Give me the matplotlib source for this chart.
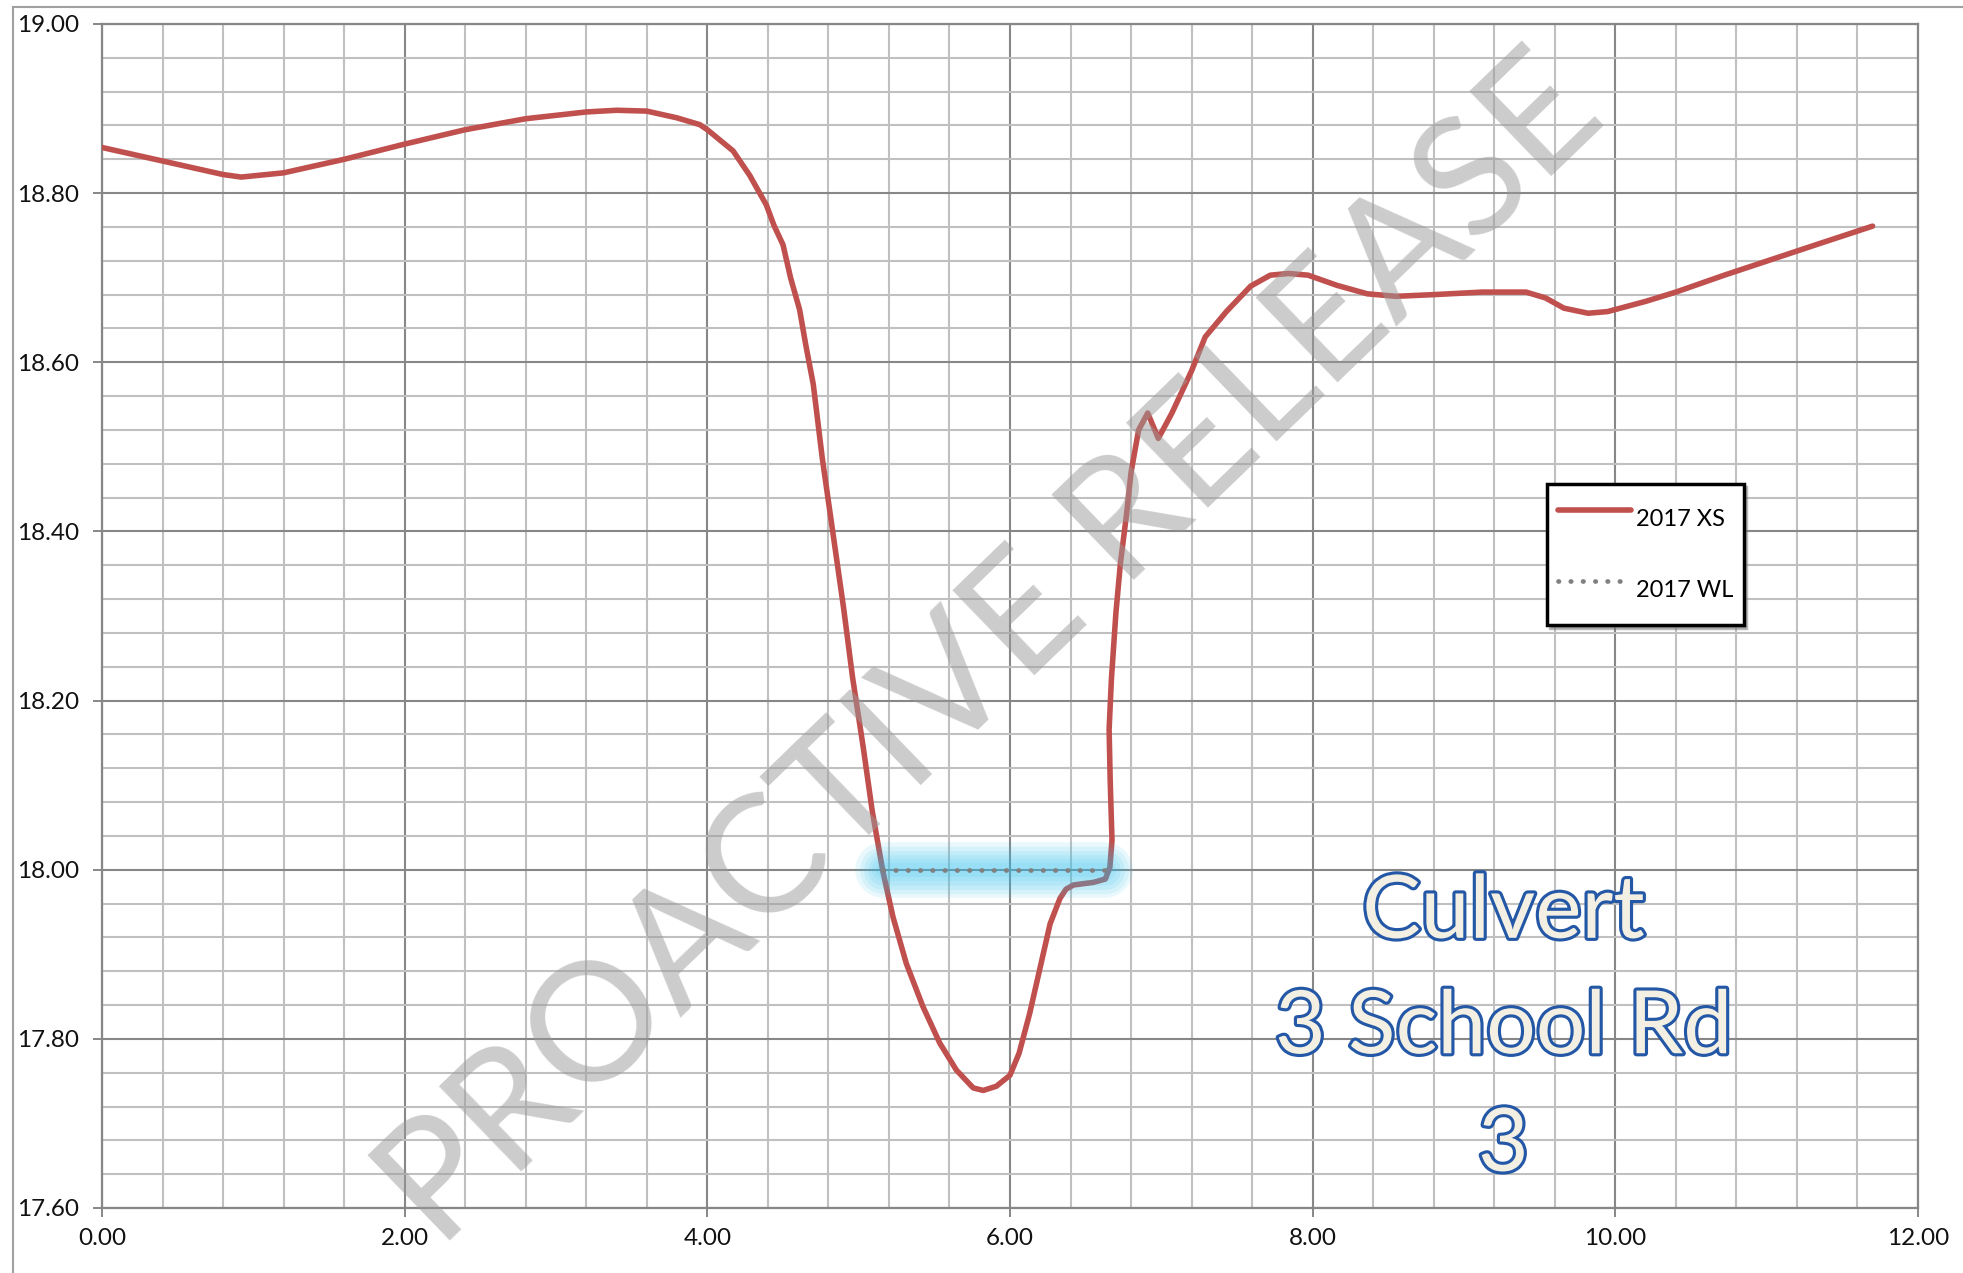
import matplotlib
matplotlib.use("Agg")
import matplotlib.pyplot as plt
from matplotlib.ticker import MultipleLocator, FormatStrFormatter
from matplotlib.lines import Line2D
import matplotlib.patheffects as pe

# ---- data ----
xs_x = [0.00, 0.40, 0.80, 0.92, 1.20, 1.60, 2.00, 2.40, 2.80, 3.20,
        3.40, 3.60, 3.80, 3.95, 4.00, 4.17, 4.28, 4.39, 4.44, 4.50,
        4.55, 4.61, 4.65, 4.70, 4.76, 4.83, 4.90, 4.96, 5.03, 5.09,
        5.16, 5.227, 5.315, 5.425, 5.536, 5.646, 5.757, 5.823, 5.91, 6.00,
        6.06, 6.13, 6.20, 6.265, 6.33, 6.37, 6.42, 6.55, 6.63, 6.66,
        6.674, 6.662, 6.655, 6.67, 6.70, 6.73, 6.77, 6.80, 6.85, 6.91,
        6.98, 7.07, 7.20, 7.29, 7.43, 7.59, 7.72, 7.84, 7.97, 8.16,
        8.36, 8.55, 8.80, 9.12, 9.41, 9.54, 9.66, 9.82, 9.95, 10.20,
        10.40, 10.72, 11.04, 11.36, 11.70]
xs_y = [18.854, 18.838, 18.822, 18.819, 18.824, 18.840, 18.858, 18.875, 18.888, 18.896,
        18.898, 18.897, 18.889, 18.881, 18.875, 18.850, 18.821, 18.786, 18.762, 18.739,
        18.700, 18.662, 18.621, 18.574, 18.486, 18.398, 18.310, 18.227, 18.145, 18.069,
        17.998, 17.944, 17.889, 17.838, 17.795, 17.763, 17.742, 17.739, 17.744, 17.757,
        17.783, 17.830, 17.885, 17.936, 17.966, 17.977, 17.982, 17.985, 17.989, 18.003,
        18.035, 18.106, 18.166, 18.225, 18.304, 18.363, 18.420, 18.470, 18.520, 18.540,
        18.510, 18.540, 18.590, 18.630, 18.660, 18.690, 18.703, 18.705, 18.703, 18.691,
        18.681, 18.678, 18.680, 18.683, 18.683, 18.676, 18.664, 18.658, 18.660, 18.672,
        18.683, 18.703, 18.722, 18.741, 18.761]

wl_x = [5.16, 6.63]
wl_y = [18.00, 18.00]

series_labels = ["2017 XS", "2017 WL"]
annotation_lines = ["Culvert", "3 School Rd", "3"]
watermark = "PROACTIVE RELEASE"

W, H = 1963, 1273
plt.rcParams['font.family'] = ['Lato', 'DejaVu Sans']

fig = plt.figure(figsize=(W / 100, H / 100), dpi=100)
fig.patch.set_facecolor('white')
ax = fig.add_axes([102 / W, (H - 1208) / H, 1816 / W, 1184 / H])

ax.set_xlim(0, 12)
ax.set_ylim(17.6, 19.0)
ax.xaxis.set_major_locator(MultipleLocator(2))
ax.xaxis.set_minor_locator(MultipleLocator(0.4))
ax.yaxis.set_major_locator(MultipleLocator(0.2))
ax.yaxis.set_minor_locator(MultipleLocator(0.04))
ax.xaxis.set_major_formatter(FormatStrFormatter('%.2f'))
ax.yaxis.set_major_formatter(FormatStrFormatter('%.2f'))

ax.grid(which='major', color='#878787', lw=1.5, zorder=0)
ax.grid(which='minor', color='#c0c0c0', lw=1.5, zorder=0)
ax.set_axisbelow(True)
for s in ax.spines.values():
    s.set_color('#878787')
    s.set_linewidth(1.6)

ax.tick_params(which='major', direction='out', length=6.5, width=1.4,
               color='#878787', labelsize=17.5, labelcolor='#111111')
ax.tick_params(axis='y', which='major', pad=10)
ax.tick_params(axis='x', which='major', pad=8)
ax.tick_params(which='minor', length=0)

# cross-section
ax.plot(xs_x, xs_y, color='#c0504d', lw=4, solid_joinstyle='round',
        solid_capstyle='round', label=series_labels[0], zorder=3)

# glow behind water line
for w in [40, 34, 28, 22, 16, 10]:
    ax.plot(wl_x, wl_y, color='#2ec0ee', lw=w, alpha=0.1,
            solid_capstyle='round', zorder=4)

# water line
ax.plot(wl_x, wl_y, color='#808080', lw=3.4, linestyle=(0, (0.1, 2.5)),
        dash_capstyle='round', label=series_labels[1], zorder=5)

# annotation text
ann_y = [17.9195, 17.783, 17.644]
for t, yy in zip(annotation_lines, ann_y):
    ax.text(9.26, yy, t, ha='center', va='baseline', fontsize=63,
            color='#f3f0e3', zorder=7,
            path_effects=[pe.withStroke(linewidth=4.5, foreground='#2458a6')])

# watermark
ax.text(0.49, 0.47, watermark, transform=ax.transAxes, rotation=44,
        rotation_mode='anchor', ha='center', va='center', fontsize=119,
        color='#9a9a9a', alpha=0.5, zorder=8)

# legend
leg = ax.legend(loc='upper left', bbox_to_anchor=(1547 / W, 1 - 484 / H),
                bbox_transform=fig.transFigure, borderaxespad=0,
                fontsize=17, handlelength=3.1, handletextpad=0.2,
                handleheight=2.82, labelspacing=0.93, borderpad=0.45,
                fancybox=False, edgecolor='black', framealpha=1,
                shadow={'color': '#777777', 'alpha': 0.5})
leg.get_frame().set_linewidth(2.5)
leg.set_zorder(9)

# outer chart border
fig.add_artist(Line2D([13 / W, 13 / W], [0, 1 - 7 / H], transform=fig.transFigure,
                      color='#a0a0a0', lw=1.5))
fig.add_artist(Line2D([13 / W, 1], [1 - 7 / H, 1 - 7 / H], transform=fig.transFigure,
                      color='#a0a0a0', lw=1.5))

fig.savefig('out.png', dpi=100)
